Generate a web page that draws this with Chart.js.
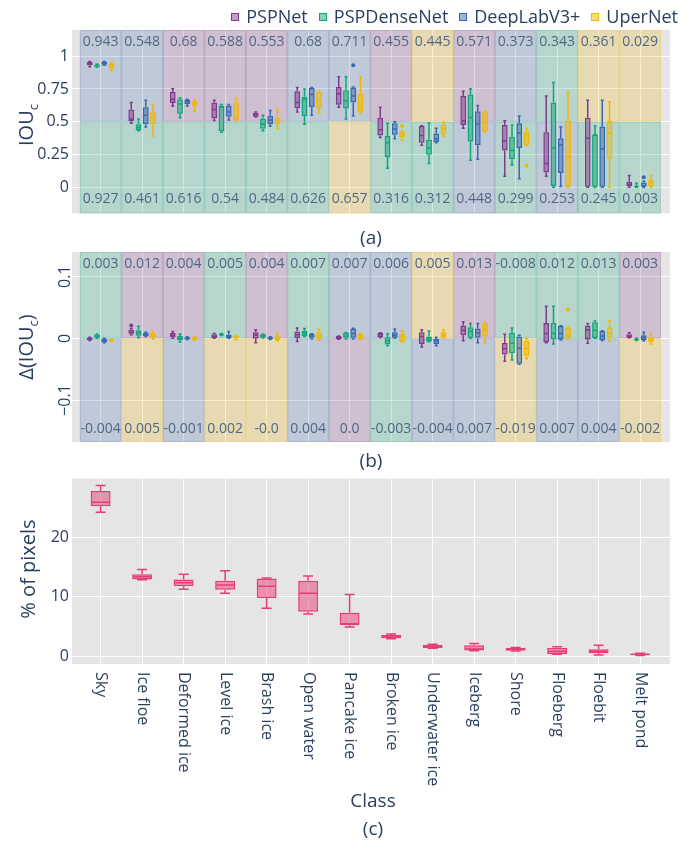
<!DOCTYPE html>
<html>
<head>
<meta charset="utf-8">
<script src="https://cdn.jsdelivr.net/npm/chart.js@4.4.0/dist/chart.umd.min.js"></script>
<style>
  body { margin: 0; width: 696px; height: 842px; background: #fff; position: relative; overflow: hidden;
         font-family: "Open Sans", sans-serif; color: #2a3f5f; }
  .wrap { position: absolute; left: 0; width: 696px; }
  .txt { position: absolute; white-space: nowrap; transform: translate(-50%, -50%); }
  .ytitle { position: absolute; white-space: nowrap; font-size: 20px; transform: translate(-50%, -50%) rotate(-90deg); }
  .ytitle sub { font-size: 13px; }
  .cap { font-size: 19px; }
  #legend { position: absolute; top: 4px; right: 18px; display: flex; gap: 11px; font-size: 18px; line-height: 24px; }
  #legend span.mk { display: inline-block; width: 6px; height: 6px; border: 1.5px solid; margin-right: 7px; vertical-align: 2px; }
</style>
</head>
<body>

<div class="wrap" style="top:0;height:226px"><canvas id="chartA"></canvas></div>
<div class="wrap" style="top:240px;height:206px"><canvas id="chartB"></canvas></div>
<div class="wrap" style="top:466px;height:376px"><canvas id="chartC"></canvas></div>

<div id="legend"></div>
<div class="ytitle" style="left:27px;top:125px">IOU<sub>c</sub></div>
<div class="ytitle" style="left:27px;top:347px">Δ(IOU<sub>c</sub>)</div>
<div class="ytitle" style="left:27px;top:569px">% of pixels</div>
<div class="txt cap" style="left:371px;top:237px">(a)</div>
<div class="txt cap" style="left:371px;top:460px">(b)</div>
<div class="txt cap" style="left:373px;top:800px">Class</div>
<div class="txt cap" style="left:373px;top:828px">(c)</div>

<script>
const classes = ['Sky', 'Ice floe', 'Deformed ice', 'Level ice', 'Brash ice', 'Open water', 'Pancake ice',
  'Broken ice', 'Underwater ice', 'Iceberg', 'Shore', 'Floeberg', 'Floebit', 'Melt pond'];
const models = ['PSPNet', 'PSPDenseNet', 'DeepLabV3+', 'UperNet'];
const modelColors = ['#7F3C8D', '#11A579', '#3969AC', '#F2B701'];

// (a) IOU_c per class, box stats: [min, q1, median, q3, max]
const iouPSPNet = [[0.92,0.93,0.94,0.955,0.96],[0.488,0.505,0.52,0.593,0.647],[0.617,0.642,0.671,0.726,0.752],
  [0.51,0.524,0.593,0.647,0.664],[0.535,0.537,0.55,0.569,0.575],[0.574,0.603,0.647,0.733,0.762],
  [0.61,0.63,0.713,0.765,0.843],[0.38,0.395,0.439,0.53,0.61],[0.32,0.34,0.395,0.468,0.47],
  [0.45,0.475,0.507,0.696,0.733],[0.083,0.28,0.353,0.475,0.507],[0.083,0.113,0.18,0.419,0.696],
  [0,0,0.373,0.53,0.664],[0,0.005,0.02,0.042,0.09]];
const iouPSPDenseNet = [[0.915,0.92,0.93,0.935,0.94],[0.43,0.432,0.455,0.48,0.52],[0.53,0.561,0.635,0.671,0.68],
  [0.42,0.426,0.61,0.623,0.632],[0.43,0.446,0.48,0.524,0.55],[0.48,0.544,0.671,0.691,0.75],
  [0.52,0.6,0.66,0.74,0.843],[0.145,0.23,0.34,0.39,0.488],[0.18,0.248,0.297,0.365,0.49],
  [0.206,0.348,0.532,0.708,0.752],[0.169,0.213,0.28,0.385,0.475],[0,0.01,0.3,0.647,0.8],
  [0,0,0.4,0.402,0.468],[0,0,0.005,0.012,0.03]];
const iouDeepLab = [[0.93,0.935,0.945,0.955,0.96],[0.46,0.48,0.55,0.61,0.664],[0.62,0.635,0.655,0.668,0.672],
  [0.513,0.537,0.574,0.623,0.632],[0.465,0.48,0.513,0.545,0.586],[0.549,0.61,0.708,0.757,0.762],
  [0.544,0.647,0.696,0.762,0.765],[0.37,0.4,0.445,0.488,0.5],[0.34,0.345,0.37,0.41,0.45],
  [0.213,0.32,0.483,0.58,0.623],[0.064,0.3,0.414,0.488,0.544],[0.005,0.108,0.323,0.373,0.46],
  [0,0,0.292,0.463,0.664],[0,0.005,0.012,0.035,0.045]];
const iouUperNet = [[0.89,0.91,0.93,0.945,0.95],[0.39,0.48,0.54,0.573,0.63],[0.58,0.623,0.64,0.657,0.665],
  [0.51,0.513,0.52,0.647,0.679],[0.45,0.48,0.505,0.528,0.59],[0.57,0.603,0.667,0.728,0.73],
  [0.56,0.575,0.61,0.713,0.843],[0.36,0.382,0.4,0.426,0.43],[0.39,0.407,0.445,0.475,0.495],
  [0.42,0.426,0.488,0.573,0.58],[0.32,0.323,0.4,0.426,0.45],[0,0,0.23,0.507,0.726],
  [0,0.218,0.414,0.505,0.652],[0,0.01,0.03,0.055,0.09]];
// outliers: [model, class, value]
const iouOutliers = [[2, 6, 0.93], [3, 7, 0.468], [3, 10, 0.164], [2, 13, 0.076]];
const iouTopModel = [2, 2, 0, 0, 0, 2, 2, 0, 3, 0, 2, 1, 3, 3];
const iouBottomModel = [1, 1, 1, 1, 1, 1, 3, 1, 1, 2, 1, 2, 1, 1];
const iouTopText = ['0.943','0.548','0.68','0.588','0.553','0.68','0.711','0.455','0.445','0.571','0.373','0.343','0.361','0.029'];
const iouBottomText = ['0.927','0.461','0.616','0.54','0.484','0.626','0.657','0.316','0.312','0.448','0.299','0.253','0.245','0.003'];

// (b) Δ(IOU_c) per class, box stats
const dPSPNet = [[-0.0035,-0.0028,-0.001,0.0015,0.002],[0.006,0.0076,0.01,0.014,0.016],[0,0.002,0.005,0.0087,0.011],
  [0,0.0005,0.003,0.0065,0.008],[-0.007,-0.0005,0.005,0.01,0.014],[-0.005,0.0005,0.006,0.011,0.017],
  [-0.0015,-0.001,0.001,0.0038,0.004],[0.0015,0.002,0.006,0.0087,0.009],[-0.014,-0.009,0.003,0.01,0.014],
  [-0.004,0.005,0.013,0.021,0.027],[-0.037,-0.026,-0.017,-0.0076,0.0065],[-0.007,-0.0065,0.008,0.025,0.052],
  [-0.008,-0.002,0.014,0.021,0.024],[0.0008,0.001,0.003,0.0065,0.009]];
const dPSPDenseNet = [[0,0.001,0.003,0.0062,0.007],[0.001,0.0043,0.009,0.013,0.0195],[-0.006,-0.003,0,0.004,0.007],
  [0.0045,0.005,0.006,0.0076,0.008],[0.0005,0.001,0.004,0.0065,0.007],[0.003,0.004,0.008,0.012,0.016],
  [-0.0005,0,0.004,0.009,0.0095],[-0.012,-0.01,-0.004,0.002,0.0076],[-0.0055,-0.005,-0.001,0.003,0.012],
  [0,0.001,0.011,0.018,0.024],[-0.035,-0.024,-0.008,0.009,0.017],[-0.009,-0.002,0.008,0.025,0.052],
  [0,0.0005,0.013,0.026,0.028],[-0.0035,-0.003,-0.002,0,0]];
const dDeepLab = [[-0.007,-0.0065,-0.004,-0.001,0],[0.003,0.004,0.006,0.009,0.01],[-0.002,-0.0015,0,0.002,0.0025],
  [0,0.0005,0.003,0.006,0.011],[-0.002,-0.0015,0,0.002,0.0025],[-0.0005,0,0.004,0.007,0.0075],
  [-0.0005,0,0.008,0.016,0.0165],[0.0005,0.001,0.005,0.01,0.015],[-0.012,-0.009,-0.004,-0.001,0.002],
  [-0.007,0,0.009,0.016,0.024],[-0.042,-0.041,-0.016,0.003,0.005],[-0.0025,-0.002,0.008,0.02,0.0205],
  [-0.0035,-0.003,0.004,0.012,0.0125],[-0.004,-0.003,0.001,0.005,0.01]];
const dUperNet = [[-0.0045,-0.004,-0.003,-0.002,-0.0015],[-0.001,0.002,0.005,0.009,0.012],[-0.003,-0.0025,-0.001,0.002,0.0025],
  [-0.002,0,0.002,0.004,0.0045],[-0.004,-0.003,-0.001,0.004,0.0076],[-0.003,-0.0005,0.004,0.0097,0.015],
  [-0.0015,-0.001,0.003,0.0076,0.008],[-0.006,-0.0054,0.002,0.0076,0.012],[0.0005,0.001,0.005,0.01,0.014],
  [-0.008,0.003,0.014,0.024,0.026],[-0.033,-0.028,-0.017,-0.004,0],[-0.0005,0,0.005,0.017,0.0175],
  [-0.004,0,0.008,0.018,0.028],[-0.009,-0.006,-0.002,0.002,0.0065]];
const deltaOutliers = [[0, 1, 0.021], [3, 11, 0.0466]];
const deltaTopModel = [1, 0, 0, 1, 0, 1, 2, 2, 3, 0, 1, 1, 1, 0];
const deltaBottomModel = [2, 3, 2, 3, 3, 2, 0, 1, 2, 2, 3, 2, 2, 3];
const deltaTopText = ['0.003','0.012','0.004','0.005','0.004','0.007','0.007','0.006','0.005','0.013','-0.008','0.012','0.013','0.003'];
const deltaBottomText = ['-0.004','0.005','-0.001','0.002','-0.0','0.004','0.0','-0.003','-0.004','0.007','-0.019','0.007','0.004','-0.002'];

// (c) % of pixels per class, box stats
const pixelShare = [[24.3,25.3,26,27.9,28.8],[12.9,12.95,13.4,13.8,14.6],[11.3,11.8,12.4,12.95,13.8],
  [10.6,11.2,12,12.7,14.4],[8.05,9.8,11.8,13.1,13.2],[7.1,7.5,10.6,12.7,13.5],[4.9,5.2,5.45,7.3,10.4],
  [2.9,3,3.2,3.55,3.7],[1.3,1.35,1.6,1.9,2],[0.9,0.95,1.2,1.8,2.1],[0.85,0.9,1.15,1.4,1.45],
  [0.3,0.35,0.8,1.4,1.55],[0.15,0.45,0.75,1.15,1.8],[0.1,0.12,0.3,0.4,0.45]];
const pixelColor = '#E73F74';

Chart.defaults.font.family = "'Open Sans', sans-serif";
Chart.defaults.color = '#2a3f5f';

function rgba(hex, a) {
  const n = parseInt(hex.slice(1), 16);
  return `rgba(${n >> 16},${(n >> 8) & 255},${n & 255},${a})`;
}

// legend
document.getElementById('legend').innerHTML = models.map((m, i) =>
  `<span><span class="mk" style="border-color:${modelColors[i]};background:${rgba(modelColors[i], 0.5)}"></span>${m}</span>`
).join('');

// gray plot background
const plotBg = {
  id: 'plotBg',
  beforeDraw(chart) {
    const { ctx, chartArea: a } = chart;
    ctx.save();
    ctx.fillStyle = '#e5e5e5';
    ctx.fillRect(a.left, a.top, a.width, a.height);
    ctx.restore();
  }
};

// coloured bands per class (best / worst model) + the numbers in them
const bands = {
  id: 'bands',
  beforeDatasetsDraw(chart, args, opts) {
    if (!opts.top) return;
    const { ctx, chartArea: a, scales: { x, y } } = chart;
    const split = y.getPixelForValue(opts.split);
    ctx.save();
    ctx.lineWidth = 1;
    opts.top.forEach((m, i) => {
      const x0 = x.getPixelForValue(i - 0.5), x1 = x.getPixelForValue(i + 0.5);
      [[a.top, split, m], [split, a.bottom, opts.bottom[i]]].forEach(([y0, y1, k]) => {
        ctx.fillStyle = rgba(modelColors[k], 0.22);
        ctx.fillRect(x0, y0, x1 - x0, y1 - y0);
        ctx.strokeStyle = rgba(modelColors[k], 0.18);
        ctx.strokeRect(x0 + 0.5, y0 + 0.5, x1 - x0 - 1, y1 - y0 - 1);
      });
    });
    ctx.restore();
  },
  afterDatasetsDraw(chart, args, opts) {
    if (!opts.top) return;
    const { ctx, scales: { x, y } } = chart;
    ctx.save();
    ctx.font = "14px 'Open Sans'";
    ctx.fillStyle = '#506784';
    ctx.textAlign = 'center';
    ctx.textBaseline = 'middle';
    opts.topText.forEach((t, i) => ctx.fillText(t, x.getPixelForValue(i), y.getPixelForValue(opts.topY)));
    opts.bottomText.forEach((t, i) => ctx.fillText(t, x.getPixelForValue(i), y.getPixelForValue(opts.bottomY)));
    ctx.restore();
  }
};

// whiskers, medians and outliers on top of the floating bars (boxes)
const whiskers = {
  id: 'whiskers',
  afterDatasetsDraw(chart) {
    const { ctx, scales: { y } } = chart;
    chart.data.datasets.forEach((ds, d) => {
      const meta = chart.getDatasetMeta(d);
      ctx.save();
      ctx.strokeStyle = ds.borderColor;
      ctx.fillStyle = ds.borderColor;
      ctx.lineWidth = 1.5;
      meta.data.forEach((bar, i) => {
        const [lo, q1, med, q3, hi] = ds.stats[i];
        const half = bar.width / 2, cap = bar.width / 4;
        const pLo = y.getPixelForValue(lo), pHi = y.getPixelForValue(hi);
        const pMed = y.getPixelForValue(med);
        ctx.beginPath();
        ctx.moveTo(bar.x, y.getPixelForValue(q3)); ctx.lineTo(bar.x, pHi);
        ctx.moveTo(bar.x, y.getPixelForValue(q1)); ctx.lineTo(bar.x, pLo);
        ctx.moveTo(bar.x - cap, pHi); ctx.lineTo(bar.x + cap, pHi);
        ctx.moveTo(bar.x - cap, pLo); ctx.lineTo(bar.x + cap, pLo);
        ctx.moveTo(bar.x - half + 1, pMed); ctx.lineTo(bar.x + half - 1, pMed);
        ctx.stroke();
      });
      (ds.outliers || []).forEach(([i, v]) => {
        ctx.beginPath();
        ctx.arc(meta.data[i].x, y.getPixelForValue(v), 2, 0, Math.PI * 2);
        ctx.fill();
      });
      ctx.restore();
    });
  }
};

// custom tick labels: rotated y ticks (b) and top-to-bottom class names (c)
const customTicks = {
  id: 'customTicks',
  afterDraw(chart, args, opts) {
    const { ctx, chartArea: a, scales: { x, y } } = chart;
    ctx.save();
    ctx.font = "16px 'Open Sans'";
    ctx.fillStyle = '#2a3f5f';
    if (opts.yRotated) {
      ctx.textAlign = 'center';
      ctx.textBaseline = 'middle';
      y.ticks.forEach(t => {
        ctx.save();
        ctx.translate(65, y.getPixelForValue(t.value));
        ctx.rotate(-Math.PI / 2);
        ctx.fillText(t.value < 0 ? '\u2212' + Math.abs(t.value) : String(t.value), 0, 0);
        ctx.restore();
      });
    }
    if (opts.xDown) {
      ctx.textAlign = 'left';
      ctx.textBaseline = 'middle';
      classes.forEach((c, i) => {
        ctx.save();
        ctx.translate(x.getPixelForValue(i), a.bottom + 8);
        ctx.rotate(Math.PI / 2);
        ctx.fillText(c, 0, 0);
        ctx.restore();
      });
    }
    ctx.restore();
  }
};

function boxDataset(label, color, stats, outliers, extra) {
  return Object.assign({
    label,
    data: stats.map((s, i) => ({ x: i, y: [s[1], s[3]] })),
    stats,
    outliers,
    backgroundColor: rgba(color, 0.5),
    borderColor: color,
    borderWidth: 1.5,
    borderSkipped: false,
    categoryPercentage: 0.7,
    barPercentage: 0.8
  }, extra || {});
}

function xScale() {
  return {
    type: 'linear', min: -0.69, max: 13.72, offset: false,
    ticks: { display: false, stepSize: 1, includeBounds: false, maxTicksLimit: 20 },
    grid: { color: '#ffffff', drawTicks: false, offset: false },
    border: { display: false },
    afterFit: s => { s.height = 0; }
  };
}

function yScale(min, max, step, showTicks) {
  return {
    min, max,
    ticks: { display: showTicks, stepSize: step, includeBounds: false, padding: 3,
             font: { size: 16 }, color: '#2a3f5f', callback: v => String(+v.toFixed(2)) },
    grid: { color: '#ffffff', drawTicks: false },
    border: { display: false },
    afterFit: s => { s.width = 72; }
  };
}

const baseOptions = (padding, y, pluginOpts) => ({
  responsive: true,
  maintainAspectRatio: false,
  animation: false,
  layout: { padding },
  scales: { x: xScale(), y },
  plugins: Object.assign({ legend: { display: false }, tooltip: { enabled: false } }, pluginOpts)
});

const byModel = (list, m) => list.filter(o => o[0] === m).map(o => [o[1], o[2]]);

// (a)
const iouSets = [iouPSPNet, iouPSPDenseNet, iouDeepLab, iouUperNet];
new Chart(document.getElementById('chartA'), {
  type: 'bar',
  data: { datasets: iouSets.map((s, m) => boxDataset(models[m], modelColors[m], s, byModel(iouOutliers, m))) },
  options: baseOptions({ left: 0, right: 26, top: 30, bottom: 6 }, yScale(-0.2, 1.2, 0.25, true), {
    bands: { split: 0.5, top: iouTopModel, bottom: iouBottomModel, topText: iouTopText,
             bottomText: iouBottomText, topY: 1.105, bottomY: -0.089 }
  }),
  plugins: [plotBg, bands, whiskers]
});

// (b)
const deltaSets = [dPSPNet, dPSPDenseNet, dDeepLab, dUperNet];
new Chart(document.getElementById('chartB'), {
  type: 'bar',
  data: { datasets: deltaSets.map((s, m) => boxDataset(models[m], modelColors[m], s, byModel(deltaOutliers, m))) },
  options: baseOptions({ left: 0, right: 26, top: 12, bottom: 4 }, yScale(-0.168, 0.14, 0.1, false), {
    bands: { split: 0, top: deltaTopModel, bottom: deltaBottomModel, topText: deltaTopText,
             bottomText: deltaBottomText, topY: 0.121, bottomY: -0.147 },
    customTicks: { yRotated: true }
  }),
  plugins: [plotBg, bands, whiskers, customTicks]
});

// (c)
new Chart(document.getElementById('chartC'), {
  type: 'bar',
  data: { datasets: [boxDataset('% of pixels', pixelColor, pixelShare, [], { categoryPercentage: 1, barPercentage: 0.48 })] },
  options: baseOptions({ left: 0, right: 26, top: 8, bottom: 178 }, yScale(-1.35, 29.98, 10, true), {
    customTicks: { xDown: true }
  }),
  plugins: [plotBg, whiskers, customTicks]
});
</script>
</body>
</html>
